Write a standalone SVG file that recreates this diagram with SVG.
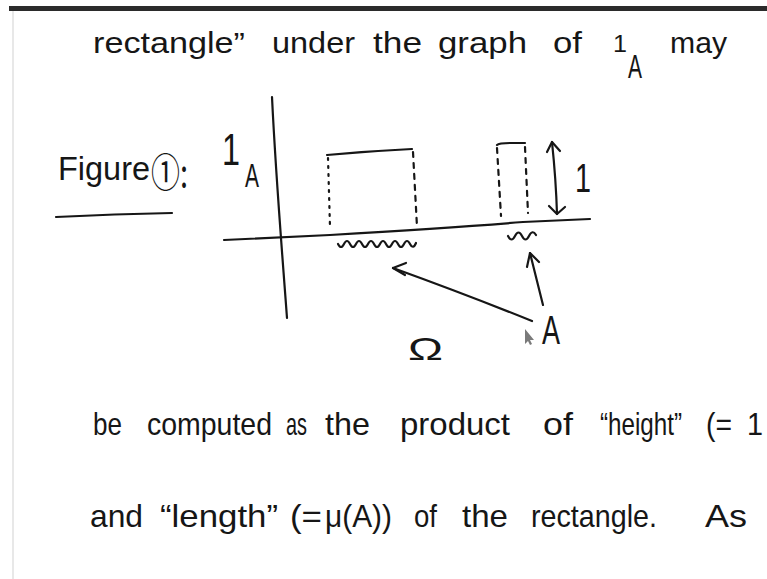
<svg xmlns="http://www.w3.org/2000/svg" width="767" height="579" viewBox="0 0 767 579">
<style>
  .t { font-family: "Liberation Sans", "Noto Sans", sans-serif; fill: #161616; }
  .pen { fill: none; stroke: #161616; stroke-width: 2.2; stroke-linecap: round; stroke-linejoin: round; }
  .dot { stroke-dasharray: 2 6; }
  .dash { stroke-dasharray: 5 6; }
</style>
<rect x="0" y="0" width="767" height="579" fill="#ffffff"/>
<rect x="9" y="6" width="758" height="5" fill="#2b2b2b"/>
<rect x="12" y="11" width="2" height="568" fill="#e8e8e8"/>

<g id="line-top" class="t" font-size="30">
  <text x="93" y="53" textLength="152" lengthAdjust="spacingAndGlyphs">rectangle”</text>
  <text x="272" y="53" textLength="83" lengthAdjust="spacingAndGlyphs">under</text>
  <text x="373" y="53" textLength="49" lengthAdjust="spacingAndGlyphs">the</text>
  <text x="438" y="53" textLength="89" lengthAdjust="spacingAndGlyphs">graph</text>
  <text x="553" y="53" textLength="29" lengthAdjust="spacingAndGlyphs">of</text>
  <text x="613" y="52" font-size="24" textLength="14" lengthAdjust="spacingAndGlyphs">1</text>
  <text x="628" y="78" font-size="34" textLength="14" lengthAdjust="spacingAndGlyphs">A</text>
  <text x="670" y="53" textLength="57" lengthAdjust="spacingAndGlyphs">may</text>
</g>

<g id="figure-label">
  <text class="t" x="58" y="180" font-size="34" textLength="92" lengthAdjust="spacingAndGlyphs">Figure</text>
  <text class="t" x="151" y="187" font-size="40" textLength="37" lengthAdjust="spacingAndGlyphs" style="font-family:'Noto Sans CJK SC','DejaVu Sans',sans-serif">①:</text>
  <path class="pen" d="M56,217 Q115,214 172,213"/>
</g>

<g id="axes">
  <path class="pen" d="M272,97 C276,180 282,250 287,318"/>
  <path class="pen" d="M224,240 L330,235 Q450,228 523,222 L590,219"/>
  <text class="t" x="222" y="165" font-size="44" textLength="18" lengthAdjust="spacingAndGlyphs">1</text>
  <text class="t" x="245" y="187" font-size="33" textLength="14" lengthAdjust="spacingAndGlyphs">A</text>
  <text class="t" x="408" y="360" font-size="32" textLength="35" lengthAdjust="spacingAndGlyphs">Ω</text>
</g>

<g id="rect1">
  <path class="pen" d="M327,155 Q370,151 412,149"/>
  <path class="pen dot" d="M328,158 L330,227"/>
  <path class="pen dash" d="M413,152 L417,227"/>
  <path class="pen" d="M338,244 q3,6 6,0 t6,0 t6,0 t6,0 t6,0 t6,0 t6,0 t6,0 t6,0 t6,0 t6,0 t6,0 t6,-1"/>
</g>

<g id="rect2">
  <path class="pen" d="M497,145 Q499,143 510,143 L525,143"/>
  <path class="pen dash" d="M497,148 L501,216"/>
  <path class="pen dash" d="M525,147 L528,213"/>
  <path class="pen" d="M508,236 q3.5,7 7,0 t7,0 t7,0 t7,-1"/>
</g>

<g id="height-arrow">
  <path class="pen" d="M552,142 Q556,180 557,214"/>
  <path class="pen" d="M547,152 L552,142 L560,151"/>
  <path class="pen" d="M549,206 L557,214 L565,207"/>
  <text class="t" x="575" y="192" font-size="40" textLength="16" lengthAdjust="spacingAndGlyphs">1</text>
</g>

<g id="connectors">
  <path class="pen" d="M532,321 C480,300 440,285 393,268"/>
  <path class="pen" d="M406,263 L393,268 L405,275"/>
  <path class="pen" d="M543,305 L530,253"/>
  <path class="pen" d="M527,267 L530,253 L539,262"/>
</g>

<g id="set-A">
  <text class="t" x="542" y="344" font-size="40" textLength="18" lengthAdjust="spacingAndGlyphs">A</text>
  <path d="M525,329 L525,344 L528,341 L530,345 L532,344 L530,340 L534,340 Z" fill="#7a7a7a"/>
</g>

<g id="line-bottom-1" class="t" font-size="32">
  <text x="93" y="435" textLength="29" lengthAdjust="spacingAndGlyphs">be</text>
  <text x="147" y="435" textLength="125" lengthAdjust="spacingAndGlyphs">computed</text>
  <text x="286" y="435" textLength="21" lengthAdjust="spacingAndGlyphs">as</text>
  <text x="325" y="435" textLength="45" lengthAdjust="spacingAndGlyphs">the</text>
  <text x="400" y="435" textLength="110" lengthAdjust="spacingAndGlyphs">product</text>
  <text x="543" y="435" textLength="30" lengthAdjust="spacingAndGlyphs">of</text>
  <text x="600" y="435" textLength="82" lengthAdjust="spacingAndGlyphs">“height”</text>
  <text x="706" y="435" textLength="26" lengthAdjust="spacingAndGlyphs">(=</text>
  <text x="747" y="435" textLength="16" lengthAdjust="spacingAndGlyphs">1</text>
</g>

<g id="line-bottom-2" class="t" font-size="32">
  <text x="90" y="527" textLength="53" lengthAdjust="spacingAndGlyphs">and</text>
  <text x="160" y="527" textLength="118" lengthAdjust="spacingAndGlyphs">“length”</text>
  <text x="290" y="527" textLength="32" lengthAdjust="spacingAndGlyphs">(=</text>
  <text x="325" y="527" textLength="67" lengthAdjust="spacingAndGlyphs">μ(A))</text>
  <text x="414" y="527" textLength="23" lengthAdjust="spacingAndGlyphs">of</text>
  <text x="462" y="527" textLength="46" lengthAdjust="spacingAndGlyphs">the</text>
  <text x="531" y="527" textLength="126" lengthAdjust="spacingAndGlyphs">rectangle.</text>
  <text x="705" y="527" textLength="42" lengthAdjust="spacingAndGlyphs">As</text>
</g>
</svg>
